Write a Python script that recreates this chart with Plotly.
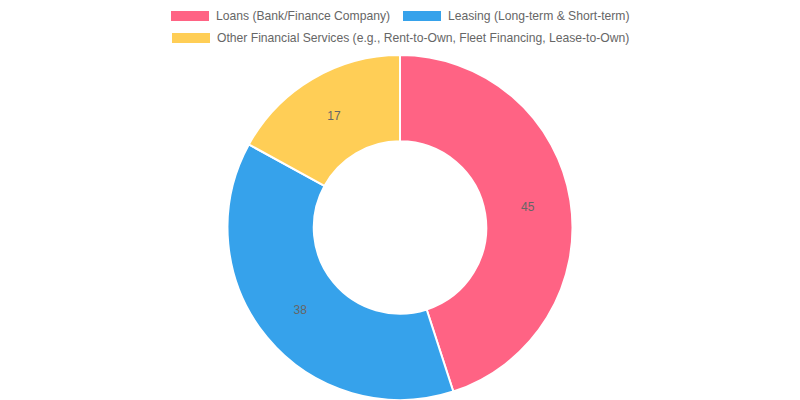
import plotly.graph_objects as go

# slice data (Chart.js style doughnut)
labels = [
    "Loans (Bank/Finance Company)",
    "Leasing (Long-term & Short-term)",
    "Other Financial Services (e.g., Rent-to-Own, Fleet Financing, Lease-to-Own)",
]
values = [45, 38, 17]
colors = ["#FF6384", "#36A2EB", "#FFCE56"]

W, H = 800, 400
FONT = "Liberation Sans, Arial, sans-serif"

fig = go.Figure()
fig.add_trace(go.Pie(
    labels=labels,
    values=values,
    hole=0.5,
    sort=False,
    direction="clockwise",
    rotation=0,
    marker=dict(colors=colors, line=dict(color="white", width=2)),
    textinfo="value",
    textposition="inside",
    insidetextorientation="horizontal",
    textfont=dict(color="#666666", size=12, family=FONT),
    domain=dict(x=[0, 1], y=[0.0, 1 - 55 / H]),
    showlegend=False,
))

# legend drawn by hand to get the wide colour boxes
# (box left px, text left px, row centre px)
legend_pos = [(171, 214, 16), (403, 446, 16), (172, 215, 38)]
for (bx, tx, cy), lab, col in zip(legend_pos, labels, colors):
    fig.add_shape(type="rect", xref="paper", yref="paper",
                  x0=bx / W, x1=(bx + 38) / W,
                  y0=1 - (cy - 5) / H, y1=1 - (cy + 5) / H,
                  fillcolor=col, line=dict(width=0))
    fig.add_annotation(x=tx / W, y=1 - cy / H, xref="paper", yref="paper",
                       text=lab, showarrow=False, xanchor="left", yanchor="middle",
                       font=dict(color="#666666", size=12.15, family=FONT))

fig.update_layout(
    width=W, height=H,
    margin=dict(l=0, r=0, t=0, b=0),
    paper_bgcolor="white",
    plot_bgcolor="white",
)

# drop the browser's default body margin so the figure sits at 0,0
fig.write_html("out.html", config={"displayModeBar": False},
               post_script="document.body.style.margin='0';")
